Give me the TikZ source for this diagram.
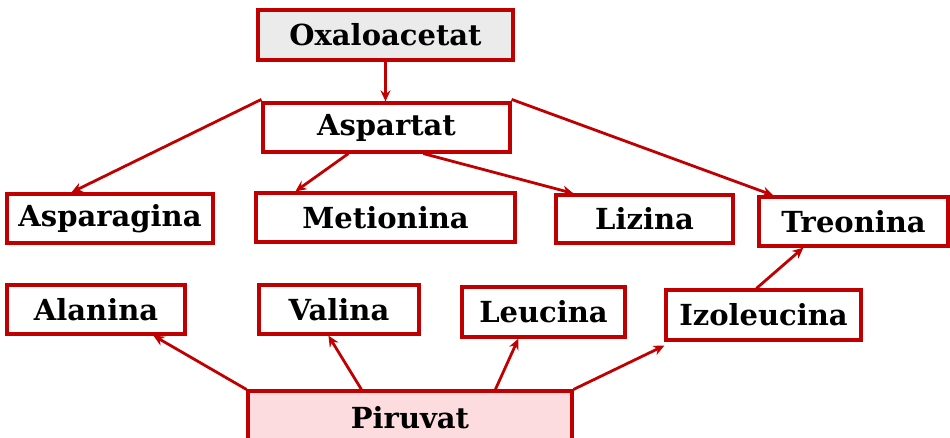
\documentclass[tikz,border=0pt]{standalone}
\usepackage{fontspec}
\setmainfont{DejaVu Serif}
\usetikzlibrary{arrows.meta}
\definecolor{boxred}{HTML}{C00000}
\definecolor{oxafill}{HTML}{EBEBEB}
\definecolor{pirfill}{HTML}{FDDCE0}
\tikzset{
  aabox/.style={draw=boxred, line width=3.2pt, fill=white, inner sep=0pt,
    font=\fontsize{29}{34}\selectfont\bfseries, text=black},
  link/.style={draw=boxred, line width=2.8pt,
    -{Stealth[length=11pt,width=10pt]}},
}
\begin{document}
\begin{tikzpicture}[x=1pt,y=-1pt]
\useasboundingbox (0,0) rectangle (950,438);
% top: oxaloacetate and aspartate
\node[aabox, fill=oxafill, minimum width=255pt, minimum height=50pt] (oxa) at (385.5,35) {Oxaloacetat};
\node[aabox, minimum width=247pt, minimum height=49pt] (asp) at (386.5,127.5) {Aspartat};
% aspartate family
\node[aabox, minimum width=206pt, minimum height=49pt] (aspg) at (110,218.5) {Asparagina};
\node[aabox, minimum width=259pt, minimum height=49pt] (met) at (385.5,217.5) {Metionina};
\node[aabox, minimum width=177pt, minimum height=48pt] (liz) at (644.5,219) {Lizina};
\node[aabox, minimum width=189pt, minimum height=49pt] (tre) at (853.5,221.5) {Treonina};
% pyruvate family
\node[aabox, minimum width=178pt, minimum height=49pt] (ala) at (96,309.5) {Alanina};
\node[aabox, minimum width=160pt, minimum height=49pt] (val) at (339,309.5) {Valina};
\node[aabox, minimum width=163pt, minimum height=50pt] (leu) at (543.5,312) {Leucina};
\node[aabox, minimum width=195pt, minimum height=50pt] (izo) at (763.5,315) {Izoleucina};
\node[aabox, fill=pirfill, minimum width=324pt, minimum height=56pt] (pir) at (410,419) {\raisebox{3pt}{Piruvat}};
% connectors
\draw[link] (oxa.south) -- (oxa.south |- asp.north);
\draw[link] ([yshift=2pt]asp.north west) -- ([xshift=66pt]aspg.north west);
\draw[link] ([xshift=87pt]asp.south west) -- ([xshift=41pt]met.north west);
\draw[link] ([xshift=162pt]asp.south west) -- ([xshift=19pt]liz.north west);
\draw[link] ([yshift=2pt]asp.north east) -- ([xshift=16pt]tre.north west);
\draw[link] ([xshift=92pt]izo.north west) -- ([xshift=46pt]tre.south west);
\draw[link] (pir.north west) -- ([xshift=148pt]ala.south west);
\draw[link] ([xshift=115pt]pir.north west) -- ([xshift=71pt]val.south west);
\draw[link] ([xshift=249pt]pir.north west) -- ([xshift=58pt]leu.south west);
\draw[link] (pir.north east) -- ([yshift=-4pt]izo.south west);
\end{tikzpicture}
\end{document}
